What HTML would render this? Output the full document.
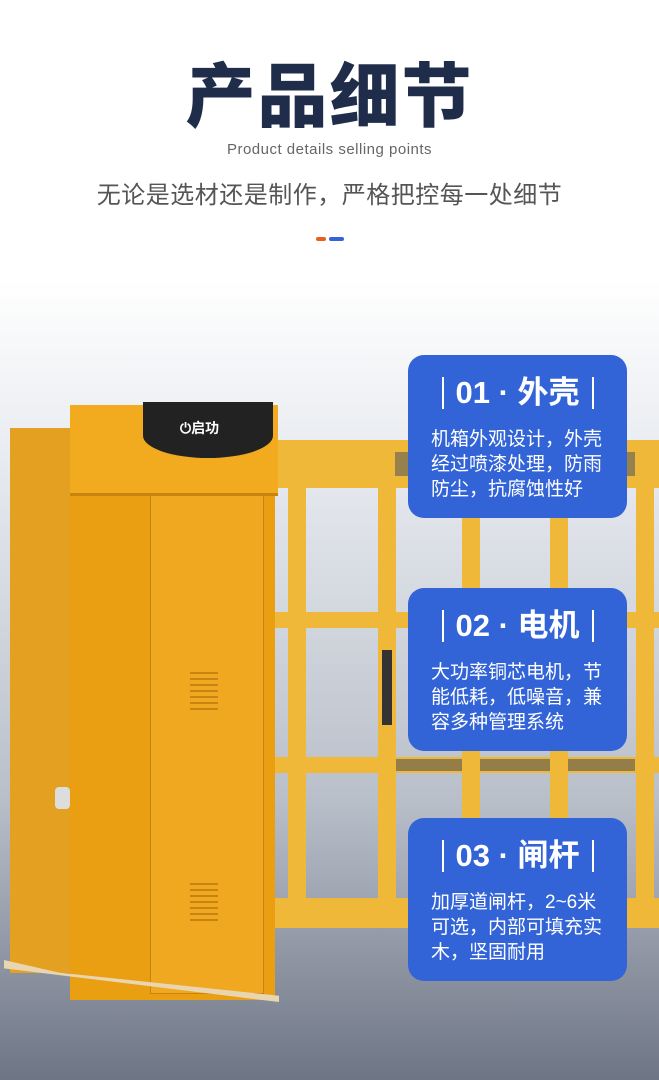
<!DOCTYPE html>
<html><head><meta charset="utf-8"><style>
body{margin:0;width:659px;height:1080px;overflow:hidden;position:relative;font-family:"Liberation Sans","Noto Sans CJK SC",sans-serif;background:linear-gradient(#fff 0,#fff 280px,#e9ecf1 450px,#b9bfc9 800px,#6e7585 1080px);}
.a{position:absolute}
.t{left:0;width:659px;text-align:center}
.card{position:absolute;left:408px;width:219px;height:163px;background:#3264d8;border-radius:16px;color:#fff}
.card h{position:absolute;top:18px;left:0;width:219px;text-align:center;font-size:31px;font-weight:bold;line-height:40px}
.card h:before,.card h:after{content:"";position:absolute;top:4px;width:2px;height:32px;background:#fff}
.card h:before{left:34px}.card h:after{left:184px}
.card p{position:absolute;top:72px;left:23px;margin:0;font-size:19px;line-height:25px;width:178px}
.y{background:#f0b838}
.o{background:#e8a018}
</style></head><body>
<div class="a t" style="top:52px;font-size:70px;font-weight:900;color:#1f2d4a;letter-spacing:2px;line-height:90px">产品细节</div>
<div class="a t" style="top:141px;font-size:15px;color:#666;letter-spacing:0.5px">Product details selling points</div>
<div class="a t" style="top:175px;font-size:24px;color:#555;letter-spacing:0.5px">无论是选材还是制作，严格把控每一处细节</div>
<div class="a" style="left:316px;top:237px;width:10px;height:4px;background:#e8601c;border-radius:2px"></div>
<div class="a" style="left:329px;top:237px;width:15px;height:4px;background:#3264d8;border-radius:2px"></div>

<div class="a y" style="left:275px;top:440px;width:384px;height:48px"></div>
<div class="a" style="left:395px;top:452px;width:240px;height:24px;background:#5a5a5a;opacity:.6"></div>
<div class="a y" style="left:275px;top:612px;width:384px;height:16px"></div>
<div class="a y" style="left:275px;top:757px;width:384px;height:16px"></div>
<div class="a y" style="left:275px;top:898px;width:384px;height:30px"></div>
<div class="a" style="left:395px;top:759px;width:240px;height:12px;background:#555;opacity:.6"></div>
<div class="a y" style="left:288px;top:488px;width:18px;height:410px"></div>
<div class="a y" style="left:378px;top:488px;width:18px;height:410px"></div>
<div class="a y" style="left:462px;top:488px;width:18px;height:410px"></div>
<div class="a y" style="left:550px;top:488px;width:18px;height:410px"></div>
<div class="a y" style="left:636px;top:488px;width:18px;height:410px"></div>
<div class="a" style="left:382px;top:650px;width:10px;height:75px;background:#333"></div>

<div class="a o" style="left:10px;top:428px;width:62px;height:545px;background:#e4a020"></div>
<div class="a" style="left:55px;top:787px;width:15px;height:22px;background:#ddd;border-radius:4px"></div>
<div class="a o" style="left:70px;top:410px;width:205px;height:590px;background:#ea9e12"></div>
<div class="a" style="left:150px;top:492px;width:112px;height:500px;background:#f0a820;border:1px solid #c88410"></div>
<div class="a" style="left:70px;top:405px;width:208px;height:88px;background:#f2aa1e;border-bottom:3px solid #c88410"></div>
<div class="a" style="left:143px;top:402px;width:130px;height:56px;background:#222;border-radius:0 0 50% 50%/0 0 40% 40%"></div>
<div class="a" style="left:180px;top:418px;color:#fff;font-size:14px;font-weight:bold">⏻启功</div>
<div class="a" style="left:190px;top:672px;width:28px;height:42px;background:repeating-linear-gradient(#c88410 0 2px,#f0a820 2px 6px)"></div>
<div class="a" style="left:190px;top:883px;width:28px;height:40px;background:repeating-linear-gradient(#c88410 0 2px,#f0a820 2px 6px)"></div>
<div class="a" style="left:4px;top:960px;width:275px;height:42px;background:#e9d6b0;clip-path:polygon(0 0,20% 30%,100% 85%,100% 100%,0 20%)"></div>

<div class="card" style="top:355px"><h>01 · 外壳</h><p>机箱外观设计，外壳经过喷漆处理，防雨防尘，抗腐蚀性好</p></div>
<div class="card" style="top:588px"><h>02 · 电机</h><p>大功率铜芯电机，节能低耗，低噪音，兼容多种管理系统</p></div>
<div class="card" style="top:818px"><h>03 · 闸杆</h><p>加厚道闸杆，2~6米可选，内部可填充实木，坚固耐用</p></div>
</body></html>
